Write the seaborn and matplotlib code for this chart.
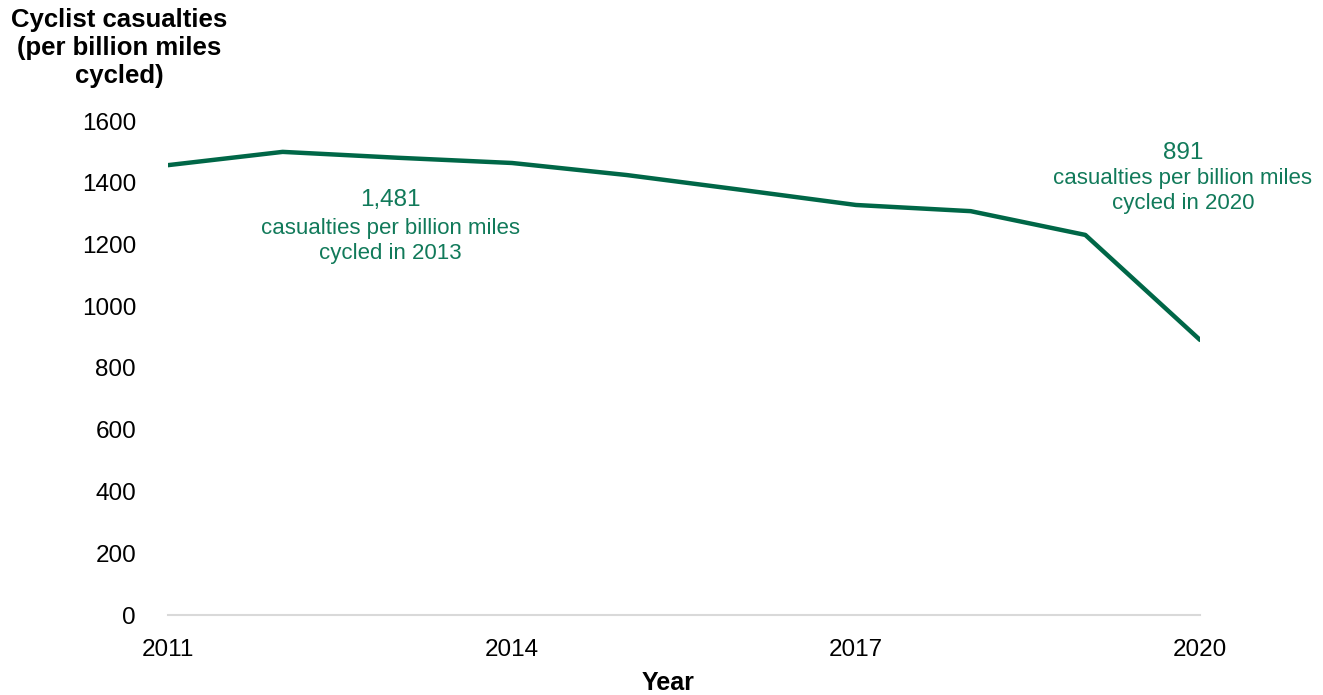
import matplotlib
matplotlib.use("Agg")
import matplotlib.pyplot as plt
import seaborn as sns
import pandas as pd

years = [2011, 2012, 2013, 2014, 2015, 2016, 2017, 2018, 2019, 2020]
casualties = [1457, 1500, 1481, 1464, 1425, 1377, 1328, 1308, 1231, 891]
x_ticks = [2011, 2014, 2017, 2020]
y_ticks = [0, 200, 400, 600, 800, 1000, 1200, 1400, 1600]

sns.set_theme(style="white")
plt.rcParams['font.family'] = ['Liberation Sans', 'DejaVu Sans']

df = pd.DataFrame({"Year": years, "Casualties": casualties})

fig = plt.figure(figsize=(13.23, 6.95), dpi=100)
ax = fig.add_axes([168/1323, 1-615/695, (1200-168)/1323, (615-121)/695])

green = "#006747"
sns.lineplot(data=df, x="Year", y="Casualties", ax=ax, color=green, linewidth=3.2)

ax.set_xlim(2011, 2020)
ax.set_ylim(0, 1600)
ax.set_xticks(x_ticks)
ax.set_yticks(y_ticks)
ax.tick_params(axis='both', length=0, labelsize=17.5, colors="#000000")
ax.tick_params(axis='x', pad=17)
ax.tick_params(axis='y', pad=23)
for s in ["top", "right", "left"]:
    ax.spines[s].set_visible(False)
ax.spines["bottom"].set_color("#d9d9d9")
ax.spines["bottom"].set_linewidth(1.5)
ax.grid(False)
ax.set_ylabel("")
ax.set_xlabel("")

fig.text(668/1323, 1-683/695, "Year", ha="center", va="center", fontsize=18, fontweight="bold", color="black")
fig.text(119/1323, 1-48/695, "Cyclist casualties\n(per billion miles\ncycled)", ha="center", va="center",
         fontsize=18.5, fontweight="bold", linespacing=1.22, color="black")

ann_color = "#117a5a"
# annotation for 2013 peak
ax.text(2012.94, 1344, "1,481", ha="center", va="center", fontsize=17.5, color=ann_color)
ax.text(2012.94, 1253, "casualties per billion miles", ha="center", va="center", fontsize=16, color=ann_color)
ax.text(2012.94, 1170, "cycled in 2013", ha="center", va="center", fontsize=16, color=ann_color)
# annotation for 2020
ax.text(2019.85, 1496, "891", ha="center", va="center", fontsize=17.5, color=ann_color, clip_on=False)
ax.text(2019.85, 1415, "casualties per billion miles", ha="center", va="center", fontsize=16,
        color=ann_color, clip_on=False)
ax.text(2019.85, 1334, "cycled in 2020", ha="center", va="center", fontsize=16, color=ann_color, clip_on=False)

fig.savefig("out.png", dpi=100)
